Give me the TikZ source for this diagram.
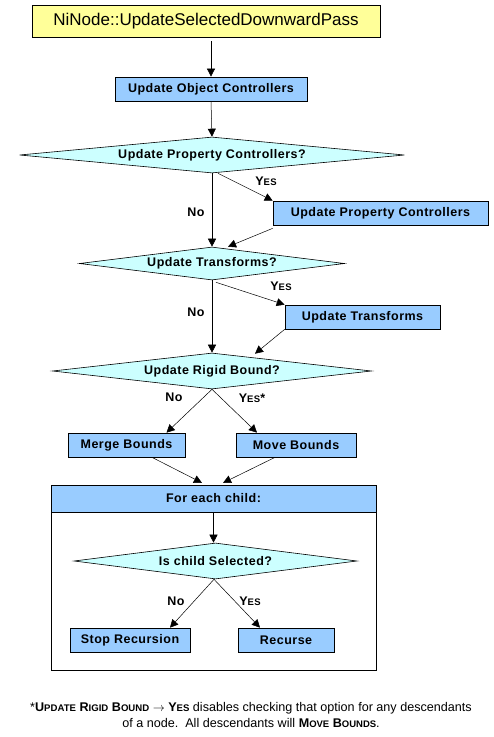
\documentclass[tikz,border=0pt]{standalone}
\usepackage{fontspec}
\setmainfont{Liberation Sans}
\newfontfamily\boxfont[LetterSpace=4]{Liberation Sans}
\usetikzlibrary{positioning,shapes.geometric,arrows.meta}
\definecolor{titleyellow}{HTML}{FFFF99}
\definecolor{boxblue}{HTML}{99CCFF}
\definecolor{askcyan}{HTML}{CCFFFF}
\newcommand{\smcsize}{\fontsize{9.5}{9.5}\selectfont}
\newcommand{\smc}[2]{#1{\smcsize #2}}
\tikzset{
  titlebox/.style={draw, fill=titleyellow, line width=0.8pt, minimum width=348pt, minimum height=32pt, font=\fontsize{17}{17}\selectfont},
  actbox/.style={draw, fill=boxblue, line width=0.7pt, minimum height=24pt, inner sep=0pt, font=\boxfont\bfseries\fontsize{12.5}{12.5}\selectfont},
  askdia/.style={diamond, draw, fill=askcyan, line width=0.6pt, inner sep=0pt, font=\boxfont\bfseries\fontsize{12.5}{12.5}\selectfont},
  flow/.style={-{Triangle[length=8pt,width=8pt]}, line width=0.5pt},
  branch/.style={font=\boxfont\bfseries\fontsize{12.5}{12.5}\selectfont}
}
\begin{document}
\begin{tikzpicture}[x=1pt,y=-1pt]
  \useasboundingbox (0,0) rectangle (494,737);
  % main chain
  \node[titlebox] (title) at (206,21) {NiNode::UpdateSelectedDownwardPass};
  \node[actbox, minimum width=192pt] (uoc) at (211,89) {Update Object Controllers};
  \node[askdia, minimum width=385pt, minimum height=36pt, aspect=10.7] (pc) at (212,155) {Update Property Controllers?};
  \node[actbox, minimum width=215pt] (upc) at (380.5,213) {Update Property Controllers};
  \node[askdia, minimum width=265pt, minimum height=33pt, aspect=8] (ut) at (212,263.5) {Update Transforms?};
  \node[actbox, minimum width=155pt] (utr) at (362.5,317) {Update Transforms};
  \node[askdia, minimum width=319pt, minimum height=36pt, aspect=8.9] (rb) at (212,371) {Update Rigid Bound?};
  \node[actbox, minimum width=117pt] (mb) at (126.5,445) {Merge Bounds};
  \node[actbox, minimum width=120pt] (mv) at (296,445) {Move Bounds};
  % loop over children
  \draw[line width=0.8pt] (51,485) rectangle (376,670);
  \node[actbox, minimum width=325pt, minimum height=27pt, line width=0.8pt] (hdr) at (213.5,498.5) {For each child:};
  \node[askdia, minimum width=283pt, minimum height=36pt, aspect=7.9] (cs) at (215.5,561) {Is child Selected?};
  \node[actbox, minimum width=120pt] (sr) at (130,640) {Stop Recursion};
  \node[actbox, minimum width=96pt] (rc) at (286,640) {Recurse};

  \draw[flow, shorten <=4pt] (uoc.north |- title.south) -- (uoc.north);
  \draw[flow] (uoc.south) -- (pc.north);
  \draw[flow] (pc.south) -- (ut.north);
  \draw[flow] ([xshift=6pt]pc.south) -- (upc.north west);
  \draw[flow] ([yshift=-3pt]upc.south west) -- ([xshift=16pt]ut.north);
  \draw[flow] (ut.south) -- (rb.north);
  \draw[flow] ([xshift=4pt,yshift=-2pt]ut.south) -- (utr.north west);
  \draw[flow] (utr.south west) -- ([xshift=43pt,yshift=-1pt]rb.north);
  \draw[flow] (rb.south) -- ([xshift=40pt]mb.north);
  \draw[flow] (rb.south) -- ([xshift=-39pt]mv.north);
  \draw[flow, shorten >=4pt] ([xshift=25.5pt]mb.south) -- ([xshift=-8pt]hdr.north);
  \draw[flow, shorten >=4pt] ([xshift=-21pt]mv.south) -- ([xshift=6pt]hdr.north);
  \draw[flow] (hdr.south) -- (hdr.south |- cs.north);
  \draw[flow] ([xshift=-1.5pt]cs.south) -- ([xshift=40pt]sr.north);
  \draw[flow] ([xshift=-1.5pt]cs.south) -- ([xshift=-26pt]rc.north);

  % branch labels
  \node[branch] (pcno) at (196,212) {No};
  \node[branch] (pcyes) at (266,181) {\smc{Y}{ES}};
  \node[branch] (utno) at (196,312) {No};
  \node[branch] (utyes) at (281,286) {\smc{Y}{ES}};
  \node[branch] (rbno) at (174,397) {No};
  \node[branch] (rbyes) at (252,398) {\smc{Y}{ES}*};
  \node[branch] (csno) at (176,601) {No};
  \node[branch] (csyes) at (250,601) {\smc{Y}{ES}};

  % footnote
  \node[font=\fontsize{12.6}{15.5}\selectfont, align=center] (note) at (251,715)
    {\renewcommand{\smcsize}{\fontsize{9.6}{9.6}\selectfont}%
     *\textbf{\smc{U}{PDATE} \smc{R}{IGID} \smc{B}{OUND} $\rightarrow$ \smc{Y}{ES}} disables checking that option for any descendants\\
     of a node.\ \ All descendants will \textbf{\smc{M}{OVE} \smc{B}{OUNDS}}.};
\end{tikzpicture}
\end{document}
